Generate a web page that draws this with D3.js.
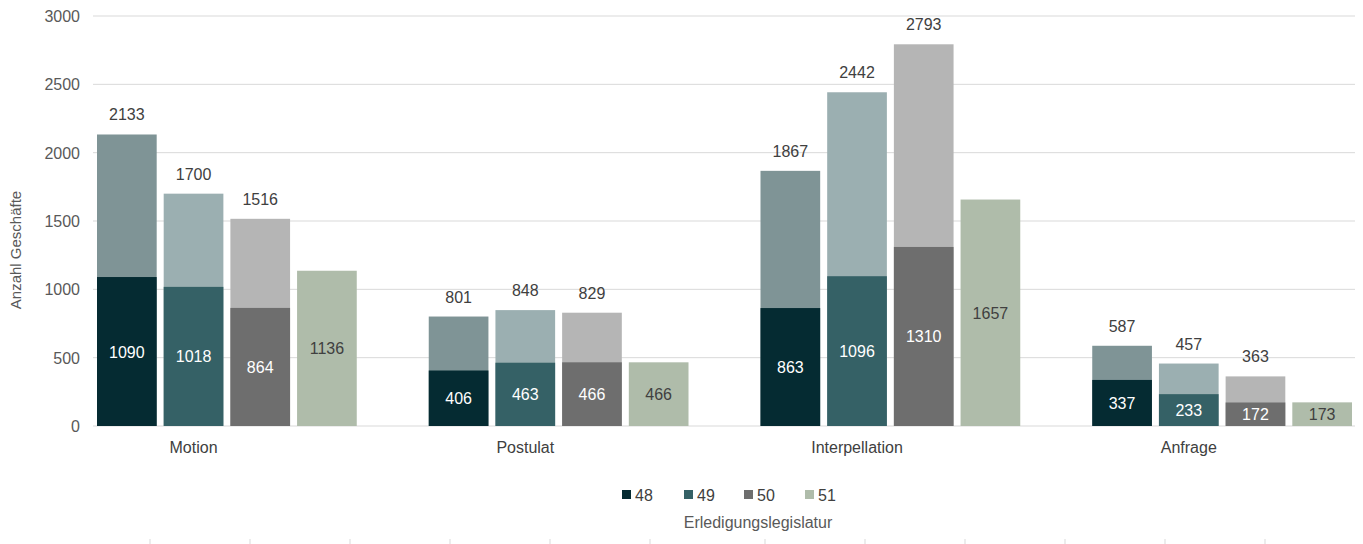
<!DOCTYPE html>
<html><head><meta charset="utf-8">
<script src="https://cdn.jsdelivr.net/npm/d3@7"></script>
<style>body{margin:0;background:#fff}svg{font-family:Arial,"Liberation Sans",sans-serif}</style>
</head><body><svg id="c" width="1363" height="544"></svg>
<script>
const categories = ["Motion","Postulat","Interpellation","Anfrage"];
const seriesNames = ["48","49","50","51"];
const base48 = [1090,406,863,337];
const total48 = [2133,801,1867,587];
const base49 = [1018,463,1096,233];
const total49 = [1700,848,2442,457];
const base50 = [864,466,1310,172];
const total50 = [1516,829,2793,363];
const values51 = [1136,466,1657,173];
const yTicks = [0,500,1000,1500,2000,2500,3000];
const bottomTicks = [150,250,350,450,550,650,765,865,965,1065,1165,1265];

const colors = {"48":["#052b32","#7f9496"],"49":["#356166","#9bafb1"],"50":["#6e6e6e","#b5b5b5"],"51":["#afbcaa","#afbcaa"]};
const series = [
  {k:"48",base:base48,total:total48},
  {k:"49",base:base49,total:total49},
  {k:"50",base:base50,total:total50},
  {k:"51",base:values51,total:values51}
];
const svg = d3.select("#c");
const y = d3.scaleLinear().domain([0,3000]).range([426,16]);
const x = d3.scaleBand().domain(categories).range([97,1352]).paddingInner(0.217).paddingOuter(0);
const xi = d3.scaleBand().domain(seriesNames).range([0,x.bandwidth()]).paddingInner(0.105);

yTicks.forEach(t=>{
  svg.append("line").attr("x1",93).attr("x2",1355).attr("y1",y(t)).attr("y2",y(t)).attr("stroke","#d9d9d9").attr("stroke-width",1);
  svg.append("text").attr("x",80).attr("y",y(t)+6).attr("text-anchor","end").attr("font-size",16).attr("fill","#595959").text(t);
});
svg.append("text").attr("transform","translate(21,250) rotate(-90)").attr("text-anchor","middle").attr("font-size",15).attr("fill","#595959").text("Anzahl Geschäfte");

categories.forEach((c,i)=>{
  series.forEach(s=>{
    const bx = x(c)+xi(s.k), w = xi.bandwidth();
    if (s.k!=="51") {
      svg.append("rect").attr("x",bx).attr("width",w).attr("y",y(s.total[i])).attr("height",y(0)-y(s.total[i])).attr("fill",colors[s.k][1]);
      svg.append("text").attr("x",bx+w/2).attr("y",y(s.total[i])-14).attr("text-anchor","middle").attr("font-size",16).attr("fill","#404040").text(s.total[i]);
    }
    svg.append("rect").attr("x",bx).attr("width",w).attr("y",y(s.base[i])).attr("height",y(0)-y(s.base[i])).attr("fill",colors[s.k][0]);
    svg.append("text").attr("x",bx+w/2).attr("y",(y(s.base[i])+y(0))/2+6).attr("text-anchor","middle").attr("font-size",16).attr("fill",s.k==="51"?"#404040":"#ffffff").text(s.base[i]);
  });
  const cx = x(c)+ (xi("48")+xi("50")+xi.bandwidth())/2;
  svg.append("text").attr("x",cx).attr("y",453).attr("text-anchor","middle").attr("font-size",16).attr("fill","#404040").text(c);
});

const lx = [622,684,744,805];
seriesNames.forEach((s,i)=>{
  svg.append("rect").attr("x",lx[i]).attr("y",490).attr("width",9).attr("height",9).attr("fill",colors[s][0]);
  svg.append("text").attr("x",lx[i]+13).attr("y",501).attr("font-size",16).attr("fill","#404040").text(s);
});
svg.append("text").attr("x",758).attr("y",528).attr("text-anchor","middle").attr("font-size",16).attr("fill","#595959").text("Erledigungslegislatur");
bottomTicks.forEach(t=>svg.append("line").attr("x1",t).attr("x2",t).attr("y1",539).attr("y2",544).attr("stroke","#d9d9d9"));
</script></body></html>
